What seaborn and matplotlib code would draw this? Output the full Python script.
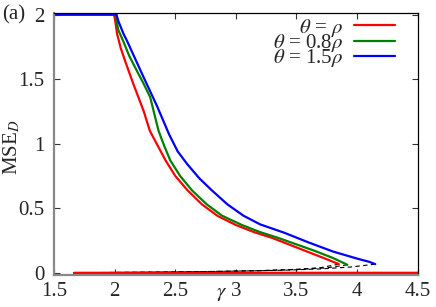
import numpy as np
import pandas as pd
import seaborn as sns
import matplotlib.pyplot as plt
from matplotlib.transforms import blended_transform_factory

# upper (stable) branches
gamma_red = [1.5, 1.995, 2.005, 2.02, 2.05, 2.09, 2.155, 2.24, 2.29, 2.335, 2.42,
             2.5, 2.6, 2.72, 2.85, 3.0, 3.15, 3.3, 3.45, 3.6, 3.75, 3.85]
mse_red = [2.0, 2.0, 1.95, 1.85, 1.74, 1.63, 1.46, 1.25, 1.1, 1.02, 0.87,
           0.75, 0.64, 0.53, 0.44, 0.37, 0.315, 0.27, 0.215, 0.16, 0.105, 0.067]

gamma_green = [1.5, 2.005, 2.015, 2.03, 2.068, 2.12, 2.18, 2.236, 2.293, 2.33, 2.362,
               2.41, 2.459, 2.54, 2.64, 2.76, 2.886, 3.05, 3.2, 3.35, 3.5, 3.65, 3.8, 3.92]
mse_green = [2.0, 2.0, 1.95, 1.88, 1.80, 1.68, 1.57, 1.47, 1.36, 1.22, 1.10,
             0.98, 0.87, 0.75, 0.636, 0.53, 0.442, 0.37, 0.315, 0.27, 0.22, 0.17, 0.115, 0.062]

gamma_blue = [1.5, 2.015, 2.03, 2.073, 2.10, 2.236, 2.35, 2.45, 2.52, 2.6, 2.7, 2.8,
              2.93, 3.063, 3.2, 3.4, 3.6, 3.8, 4.0, 4.1, 4.15]
mse_blue = [2.0, 2.0, 1.95, 1.85, 1.80, 1.52, 1.29, 1.07, 0.94, 0.84, 0.73, 0.64,
            0.53, 0.442, 0.375, 0.31, 0.235, 0.165, 0.11, 0.085, 0.067]

# unstable branches (dashed)
gamma_red_u = [3.85, 3.7, 3.5, 3.2, 2.8, 2.4, 2.0, 1.66]
mse_red_u = [0.067, 0.04, 0.027, 0.017, 0.01, 0.006, 0.003, 0.0]
gamma_green_u = [3.92, 3.75, 3.5, 3.2, 2.8, 2.4, 2.0, 1.66]
mse_green_u = [0.062, 0.038, 0.025, 0.016, 0.009, 0.005, 0.002, 0.0]
gamma_blue_u = [4.15, 3.95, 3.7, 3.4, 3.0, 2.6, 2.2, 1.66]
mse_blue_u = [0.067, 0.045, 0.03, 0.02, 0.013, 0.008, 0.004, 0.0]

# lower stable branch
gamma_low = [1.665, 4.5]
mse_low = [0.0, 0.0]

labels = [r"$\theta$ = $\rho$", r"$\theta$ = 0.8$\rho$", r"$\theta$ = 1.5$\rho$"]
colors = ["#ff0000", "#008000", "#0000ff"]

sns.set_style("ticks")
plt.rcParams["font.family"] = ["Liberation Serif", "DejaVu Serif"]
plt.rcParams["mathtext.fontset"] = "stix"

fig = plt.figure(figsize=(4.36, 3.07), dpi=100)
ax = fig.add_axes([0.124, 0.103, 0.834, 0.856])

upper = [(gamma_red, mse_red), (gamma_green, mse_green), (gamma_blue, mse_blue)]
unstable = [(gamma_red_u, mse_red_u), (gamma_green_u, mse_green_u), (gamma_blue_u, mse_blue_u)]

for (g, m), c in zip(unstable, colors):
    sns.lineplot(x=g, y=m, ax=ax, color="black", lw=0.8, linestyle=(0, (4, 3)),
                 sort=False, estimator=None, legend=False)
for c in colors[::-1]:
    sns.lineplot(x=gamma_low, y=mse_low, ax=ax, color=c, lw=1.6, sort=False,
                 estimator=None, legend=False, clip_on=False)
for (g, m), c, lab in zip(upper, colors, labels):
    df = pd.DataFrame({"gamma": g, "mse": m})
    sns.lineplot(data=df, x="gamma", y="mse", ax=ax, color=c, lw=1.6, sort=False,
                 estimator=None, label=lab, clip_on=False)

ax.set_xlim(1.5, 4.5)
ax.set_ylim(-0.02, 2.015)
ax.set_xticks([1.5, 2, 2.5, 3, 3.5, 4, 4.5])
ax.set_xticklabels(["1.5", "2", "2.5", "3", "3.5", "4", "4.5"])
ax.set_yticks([0, 0.5, 1, 1.5, 2])
ax.set_yticklabels(["0", "0.5", "1", "1.5", "2"])
ax.tick_params(direction="in", length=4, width=0.8, labelsize=15,
               top=True, right=True, color="#333333")
ax.tick_params(axis="x", pad=5)
ax.tick_params(axis="y", pad=7)
for side in ["left", "bottom"]:
    ax.spines[side].set_color("#888888")
    ax.spines[side].set_linewidth(1.6)
for side in ["top", "right"]:
    ax.spines[side].set_color("black")
    ax.spines[side].set_linewidth(0.9)

ax.set_xlabel("")
ax.set_ylabel("")
trans = blended_transform_factory(ax.transData, fig.transFigure)
ax.text(2.886, 0.045, r"$\gamma$", transform=trans, fontsize=15,
        ha="center", va="center")
fig.text(0.027, 0.52, r"MSE$_D$", rotation=90, fontsize=15,
         ha="center", va="center")
fig.text(0.005, 0.953, "(a)", fontsize=15, ha="left", va="center")

ax.legend(loc="upper right", bbox_to_anchor=(0.95, 1.0), frameon=False,
          fontsize=15, markerfirst=False, handlelength=2.0, handletextpad=0.5,
          labelspacing=-0.32, borderaxespad=0.0, borderpad=0.2)

fig.savefig("out.png", dpi=100)
